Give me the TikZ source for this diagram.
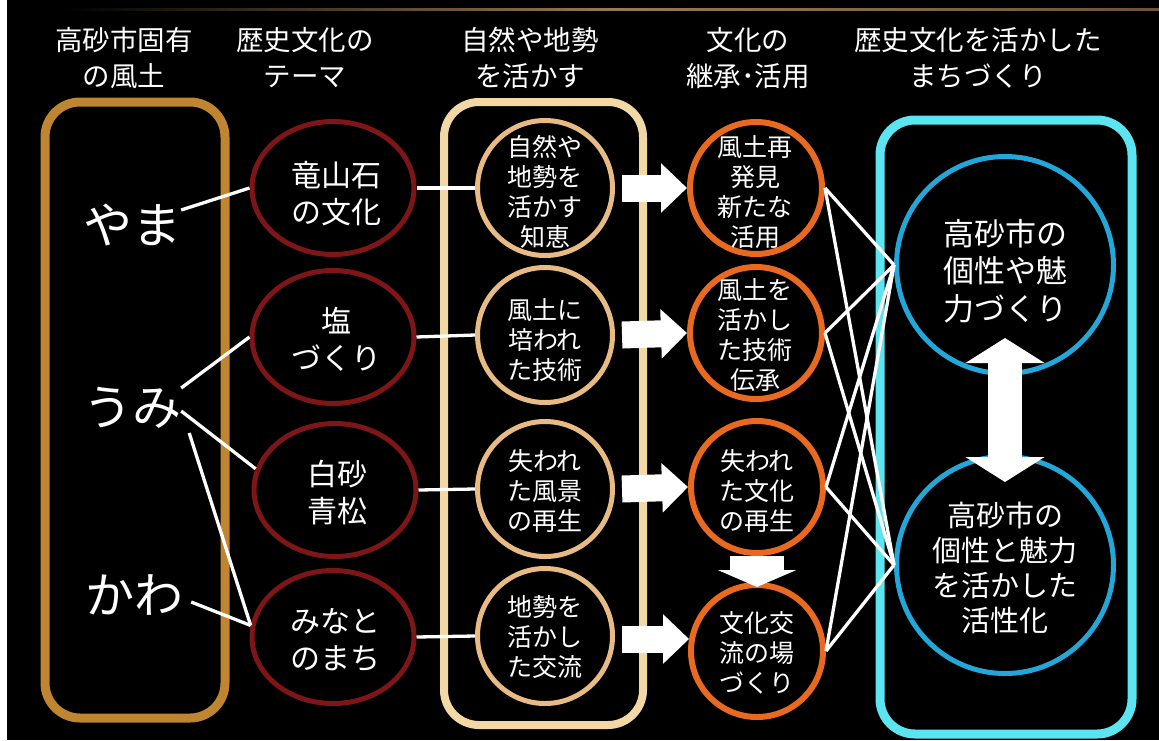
\documentclass[tikz,border=0pt]{standalone}
\usepackage{fontspec}
\newfontfamily\jp{Noto Sans CJK JP}
\usetikzlibrary{shapes.geometric,arrows.meta,calc}
\newcommand\jpfs[2]{\fontsize{#1}{#2}\selectfont}
\definecolor{goldbox}{HTML}{BF8530}
\definecolor{palebox}{HTML}{F2D8A4}
\definecolor{redring}{HTML}{7E1517}
\definecolor{tanring}{HTML}{E8BB84}
\definecolor{orangering}{HTML}{E8691F}
\definecolor{cyanbox}{HTML}{5CE4F1}
\definecolor{bluering}{HTML}{22A7D8}
\definecolor{topline}{HTML}{9A7A50}
\begin{document}
\begin{tikzpicture}[x=1pt,y=-1pt,
  txt/.style={text=white, align=center, inner sep=0pt},
  hdr/.style={txt, font=\jp\jpfs{27.5}{36}},
  big/.style={txt, font=\jp\jpfs{49}{52}},
  in2/.style={txt, font=\jp\jpfs{30}{37}},
  in4/.style={txt, font=\jp\jpfs{25}{30}},
  inb1/.style={txt, font=\jp\jpfs{31}{37.5}},
  inb2/.style={txt, font=\jp\jpfs{29}{35}},
  colbox/.style={rectangle, line width=9pt, rounded corners=35pt, inner sep=0pt},
  redell/.style={ellipse, draw=redring, line width=5pt, minimum width=162pt, minimum height=133pt, inner sep=0pt},
  tanc/.style={circle, draw=tanring, line width=5pt, minimum size=135pt, inner sep=0pt},
  orc/.style={circle, draw=orangering, line width=6pt, minimum size=132pt, inner sep=0pt},
  bluec/.style={circle, draw=bluering, line width=5pt, minimum size=217pt, inner sep=0pt},
  conn/.style={draw=white, line width=3.3pt},
  blockarrow/.style={draw=white, line width=27pt, -{Triangle[length=26pt,width=48pt]}}
]
% background
\fill[black] (0,0) rectangle (1159,740);
\fill[white] (0,0) rectangle (7,740);
\useasboundingbox (0,0) rectangle (1159,740);
\shade[left color=black, right color=topline!70!black, middle color=topline] (60,8) rectangle (1159,10.5);

% headers
\node[hdr] (h1) at (124,58) {高砂市固有\\の風土};
\node[hdr] (h2) at (305,58) {歴史文化の\\テーマ};
\node[hdr] (h3) at (530,58) {自然や地勢\\を活かす};
\node[hdr] (h4) at (748,58) {文化の\\継承･活用};
\node[hdr] (h5) at (978,58) {歴史文化を活かした\\まちづくり};

% column boxes
\node[colbox, draw=goldbox, minimum width=180pt, minimum height=616pt] (box1) at (135,410) {};
\node[colbox, draw=palebox, line width=8pt, minimum width=199pt, minimum height=623pt] (box3) at (543.5,413.5) {};
\node[colbox, draw=cyanbox, minimum width=252pt, minimum height=614pt] (box5) at (1006,427) {};

% column 1 words
\node[big] (yama) at (132,225) {やま};
\node[big] (umi) at (132,408) {うみ};
\node[big] (kawa) at (134,595) {かわ};

% column 2 ellipses
\node[redell] (r1) at (333,188) {};
\node[redell] (r2) at (333,337) {};
\node[redell] (r3) at (335,490) {};
\node[redell] (r4) at (333,637) {};
\node[in2] (r1t) at (336,194) {竜山石\\の文化};
\node[in2] (r2t) at (336,339) {塩\\づくり};
\node[in2] (r3t) at (337,493) {白砂\\青松};
\node[in2] (r4t) at (335,640) {みなと\\のまち};

% column 3 circles
\node[tanc] (t1) at (545,188) {};
\node[tanc] (t2) at (545,335) {};
\node[tanc] (t3) at (545,489) {};
\node[tanc] (t4) at (545,636) {};
\node[in4] (t1t) at (545,192) {自然や\\地勢を\\活かす\\知恵};
\node[in4] (t2t) at (545,340) {風土に\\培われ\\た技術};
\node[in4] (t3t) at (545,491) {失われ\\た風景\\の再生};
\node[in4] (t4t) at (545,637) {地勢を\\活かし\\た交流};

% column 4 circles
\node[orc] (o1) at (756,188) {};
\node[orc] (o2) at (756,333) {};
\node[orc] (o3) at (757,487) {};
\node[orc] (o4) at (757,651) {};
\node[in4] (o1t) at (755,192) {風土再\\発見\\新たな\\活用};
\node[in4] (o2t) at (755,335) {風土を\\活かし\\た技術\\伝承};
\node[in4] (o3t) at (757,491) {失われ\\た文化\\の再生};
\node[in4] (o4t) at (757,653) {文化交\\流の場\\づくり};

% column 5 circles
\node[bluec] (b1) at (1005,265) {};
\node[bluec] (b2) at (1005,565) {};
\node[inb1] (b1t) at (1005,271) {高砂市の\\個性や魅\\力づくり};
\node[inb2] (b2t) at (1005,568) {高砂市の\\個性と魅力\\を活かした\\活性化};

% connectors col1 -> col2
\draw[conn] ([yshift=15pt]yama.east) -- (r1.west);
\draw[conn] ([yshift=20pt]umi.east) -- (r2.west);
\draw[conn] ([yshift=-3pt]umi.east) -- (r3.165);
\draw[conn] ([xshift=8pt,yshift=-25pt]umi.east) -- (r4.172);
\draw[conn] ([xshift=8pt,yshift=-7pt]kawa.east) -- (r4.172);

% connectors col2 -> col3
\draw[conn] (r1.east) -- (t1.west);
\draw[conn] (r2.east) -- (t2.west);
\draw[conn] (r3.east) -- (t3.west);
\draw[conn] (r4.east) -- (t4.west);

% connectors col4 -> col5
\foreach \o in {o1,o2,o3,o4}{
  \draw[conn] (\o.east) -- (b1.west);
  \draw[conn] (\o.east) -- (b2.west);
}

% block arrows
\draw[blockarrow] ([xshift=7pt]t1.east) -- (o1.west);
\draw[blockarrow] ([xshift=7pt]t2.east) -- (o2.west);
\draw[blockarrow] ([xshift=7pt]t3.east) -- (o3.west);
\draw[blockarrow] ($(t4.east |- o4.170)+(7,0)$) -- (o4.170);
\draw[draw=white, line width=54pt, -{Triangle[length=17pt,width=78pt]}] (o3.south) -- ([yshift=-5pt]o4.north);
\draw[draw=white, line width=34pt, {Triangle[length=25pt,width=78pt]}-{Triangle[length=25pt,width=78pt]}] ([yshift=38pt]b1.south) -- ([yshift=-28pt]b2.north);
\end{tikzpicture}
\end{document}
